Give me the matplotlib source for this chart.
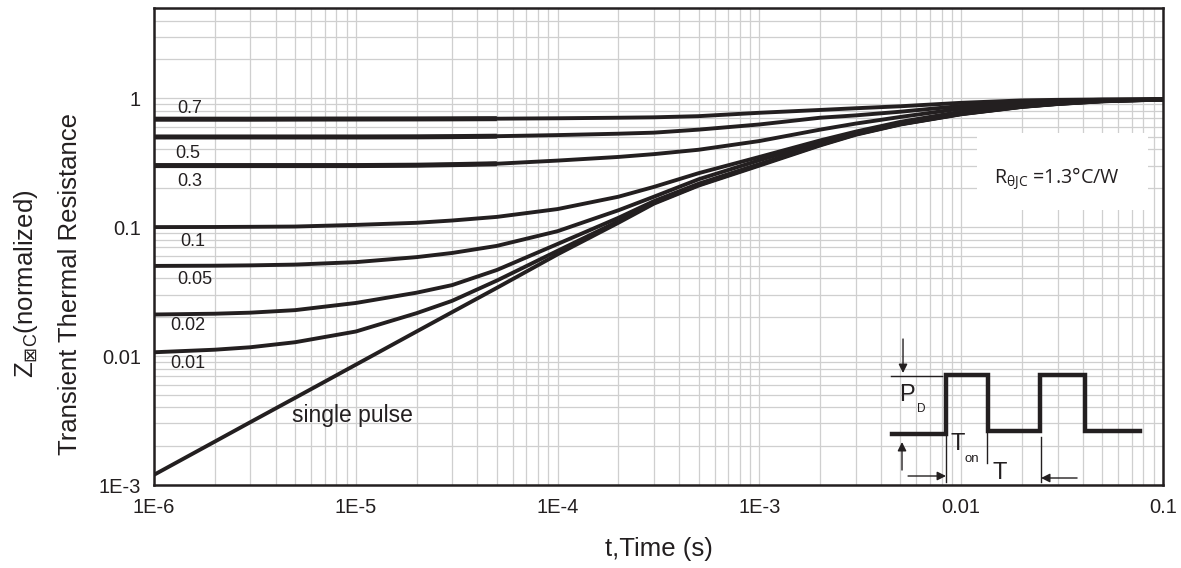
import numpy as np
import matplotlib
matplotlib.use("Agg")
import matplotlib.pyplot as plt
from matplotlib.patches import Rectangle

plt.rcParams["font.family"] = ["Liberation Sans", "DejaVu Sans"]

# ==========================================
# Data
# ==========================================
t = [1e-6, 2e-6, 3e-6, 5e-6, 1e-5, 2e-5, 3e-5, 5e-5, 1e-4, 2e-4, 3e-4,
     5e-4, 1e-3, 2e-3, 3e-3, 5e-3, 1e-2, 2e-2, 3e-2, 5e-2, 1e-1]

z_d07 = [0.687, 0.687, 0.687, 0.688, 0.689, 0.690, 0.691, 0.693, 0.698, 0.705, 0.710,
         0.725, 0.77, 0.81, 0.835, 0.865, 0.92, 0.96, 0.97, 0.977, 0.98]
z_d05 = [0.500, 0.500, 0.500, 0.500, 0.500, 0.501, 0.503, 0.507, 0.517, 0.530, 0.540,
         0.57, 0.625, 0.705, 0.735, 0.785, 0.87, 0.935, 0.955, 0.972, 0.98]
z_d03 = [0.300, 0.300, 0.300, 0.300, 0.300, 0.302, 0.305, 0.310, 0.328, 0.350, 0.368,
         0.398, 0.465, 0.57, 0.635, 0.715, 0.83, 0.91, 0.94, 0.965, 0.98]
z_d01 = [0.100, 0.1002, 0.1005, 0.101, 0.104, 0.108, 0.1125, 0.120, 0.138, 0.172, 0.205,
         0.262, 0.35, 0.47, 0.55, 0.655, 0.785, 0.88, 0.918, 0.957, 0.978]
z_d005 = [0.050, 0.0502, 0.0505, 0.0512, 0.0535, 0.0585, 0.063, 0.0715, 0.093, 0.135, 0.172,
          0.235, 0.33, 0.455, 0.537, 0.64, 0.765, 0.865, 0.908, 0.951, 0.978]
z_d002 = [0.021, 0.0213, 0.0217, 0.0227, 0.0258, 0.031, 0.0355, 0.0465, 0.074, 0.118, 0.159,
          0.217, 0.308, 0.438, 0.527, 0.631, 0.756, 0.859, 0.904, 0.948, 0.977]
z_d001 = [0.0107, 0.0112, 0.0117, 0.0128, 0.0155, 0.0215, 0.0268, 0.0385, 0.0655, 0.111, 0.154,
          0.212, 0.304, 0.434, 0.524, 0.628, 0.753, 0.857, 0.902, 0.946, 0.976]
z_single = [0.0012, 0.00217, 0.00307, 0.00474, 0.00857, 0.0155, 0.0219, 0.0338, 0.0615, 0.108, 0.152,
            0.21, 0.30, 0.43, 0.52, 0.625, 0.75, 0.855, 0.90, 0.945, 0.975]

curves = [z_d07, z_d05, z_d03, z_d01, z_d005, z_d002, z_d001, z_single]
curve_labels = ["0.7", "0.5", "0.3", "0.1", "0.05", "0.02", "0.01", "single pulse"]

xticks = [1e-6, 1e-5, 1e-4, 1e-3, 1e-2, 1e-1]
xtick_labels = ["1E-6", "1E-5", "1E-4", "1E-3", "0.01", "0.1"]
yticks = [1e-3, 1e-2, 1e-1, 1]
ytick_labels = ["1E-3", "0.01", "0.1", "1"]

# label anchor points (left edge, vertical centre)
label_pos = [(1.31e-6, 0.837), (1.27e-6, 0.375), (1.31e-6, 0.227), (1.35e-6, 0.078),
             (1.30e-6, 0.0395), (1.21e-6, 0.0174), (1.21e-6, 0.00883), (4.83e-6, 0.00349)]

ink = "#231f20"

# ==========================================
# Figure
# ==========================================
fig = plt.figure(figsize=(11.81, 5.68), dpi=100)
ax = fig.add_axes([0.1304, 0.1461, 0.8544, 0.8398])
ax.set_xscale("log")
ax.set_yscale("log")
ax.set_xlim(1e-6, 1e-1)
ax.set_ylim(1e-3, 5)

ax.grid(which="both", color="#cfcfcf", lw=0.9, zorder=0)
ax.set_axisbelow(True)

for z in curves:
    ax.plot(t, z, color=ink, lw=2.8, solid_capstyle="butt", solid_joinstyle="round", zorder=3)
# the high duty-cycle traces are drawn heavier at short times
for z in (z_d07, z_d05, z_d03):
    ax.plot(t[:8], z[:8], color=ink, lw=3.6, solid_capstyle="butt", zorder=3)

for lab, (lx, ly) in zip(curve_labels, label_pos):
    fs = 16.5 if lab == "single pulse" else 13
    ax.text(lx, ly, lab, fontsize=fs, ha="left", va="center", color=ink, zorder=4)

ax.set_xticks(xticks, xtick_labels)
ax.set_yticks(yticks, ytick_labels)
ax.tick_params(which="both", length=0)
ax.tick_params(axis="x", labelsize=14.5, pad=9.5, colors=ink)
ax.tick_params(axis="y", labelsize=14.5, pad=9.5, colors=ink)
for s in ax.spines.values():
    s.set_linewidth(1.8)
    s.set_color(ink)

ax.set_xlabel("t,Time (s)", fontsize=18.5, labelpad=14, color=ink)
fig.text(0.0593, 0.5, "Transient Thermal Resistance", rotation=90, fontsize=18.5,
         ha="center", va="center", color=ink)
fig.text(0.022, 0.5, r"Z$_{{\boxtimes}\mathregular{C}}$(normalized)", rotation=90,
         fontsize=18.5, ha="center", va="center", color=ink)

# ==========================================
# R_thJC note on a white patch
# ==========================================
ax.add_patch(Rectangle((0.8157, 0.5765), 0.169, 0.1615, transform=ax.transAxes,
                       facecolor="white", edgecolor="none", zorder=2))
ax.text(0.895, 0.6436, r"R$_{\mathregular{\theta JC}}$ =1.3°C/W", transform=ax.transAxes,
        fontsize=14.2, family="Open Sans", ha="center", va="center", color=ink, zorder=4)

# ==========================================
# Pulse train sketch
# ==========================================
tr = ax.transAxes
px = [0.7314, 0.7849, 0.7849, 0.8266, 0.8266, 0.8781, 0.8781, 0.9227, 0.9227, 0.9772]
py = [0.1069, 0.1069, 0.2306, 0.2306, 0.1132, 0.1132, 0.2306, 0.2306, 0.1132, 0.1132]
ax.plot(px, py, color=ink, lw=3.2, transform=tr, zorder=4, solid_joinstyle="miter")

thin = dict(color=ink, lw=1.0, transform=tr, zorder=4)
ax.plot([0.7304, 0.7810], [0.2285, 0.2285], **thin)
ax.plot([0.7849, 0.7849], [0.1069, 0.0063], **thin)
ax.plot([0.8256, 0.8256], [0.1153, 0.0461], **thin)
ax.plot([0.8791, 0.8791], [0.1006, 0.0063], **thin)

arw = dict(arrowstyle="-|>", color=ink, lw=1.0, mutation_scale=13, shrinkA=0, shrinkB=0)
ax.annotate("", xy=(0.7423, 0.2348), xytext=(0.7423, 0.3061), xycoords=tr, arrowprops=arw, zorder=4)
ax.annotate("", xy=(0.7413, 0.0901), xytext=(0.7413, 0.0314), xycoords=tr, arrowprops=arw, zorder=4)
ax.annotate("", xy=(0.7849, 0.0189), xytext=(0.7473, 0.0189), xycoords=tr, arrowprops=arw, zorder=4)
ax.annotate("", xy=(0.8791, 0.0147), xytext=(0.9148, 0.0147), xycoords=tr, arrowprops=arw, zorder=4)

ax.text(0.7463, 0.1887, "P", transform=tr, fontsize=17, ha="center", va="center", color=ink)
ax.text(0.7602, 0.1593, "D", transform=tr, fontsize=8.5, ha="center", va="center", color=ink)
ax.text(0.7968, 0.0860, "T", transform=tr, fontsize=17, ha="center", va="center", color=ink)
ax.text(0.8107, 0.0545, "on", transform=tr, fontsize=9.5, ha="center", va="center", color=ink)
ax.text(0.8385, 0.0252, "T", transform=tr, fontsize=17, ha="center", va="center", color=ink)

fig.savefig("out.png", dpi=100)
